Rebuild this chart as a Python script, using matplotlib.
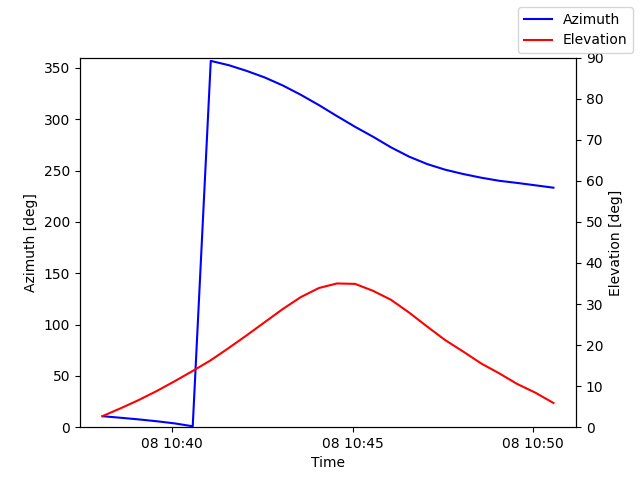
import datetime as dt
import matplotlib
matplotlib.use("Agg")
import matplotlib.pyplot as plt

# pass samples, every 30 s
start = dt.datetime(2023, 3, 8, 10, 38, 4)
times = [start + dt.timedelta(seconds=30 * i) for i in range(26)]

azimuth = [10.7, 9.2, 7.6, 5.8, 3.7, 0.9,
           356.8, 352.6, 347.0, 340.6, 332.8, 323.7, 313.7, 303.0, 292.6,
           282.9, 272.5, 263.5, 256.3, 250.8, 246.6, 243.0, 240.0, 237.9,
           235.6, 233.3]

elevation = [2.7, 4.6, 6.6, 8.8, 11.2, 13.7, 16.3, 19.3, 22.4, 25.6,
             28.8, 31.7, 33.9, 35.0, 34.9, 33.2, 31.0, 27.9, 24.5, 21.2,
             18.4, 15.5, 13.1, 10.5, 8.4, 5.9]

fig, ax1 = plt.subplots(figsize=(6.4, 4.8), dpi=100)
ax2 = ax1.twinx()

l1, = ax1.plot(times, azimuth, color='blue', label='Azimuth')
l2, = ax2.plot(times, elevation, color='red', label='Elevation')

ax1.set_ylim(0, 360)
ax2.set_ylim(0, 90)
ax1.set_xlabel('Time')
ax1.set_ylabel('Azimuth [deg]')
ax2.set_ylabel('Elevation [deg]')

fig.legend(handles=[l1, l2], loc='upper right')
fig.savefig('out.png')
